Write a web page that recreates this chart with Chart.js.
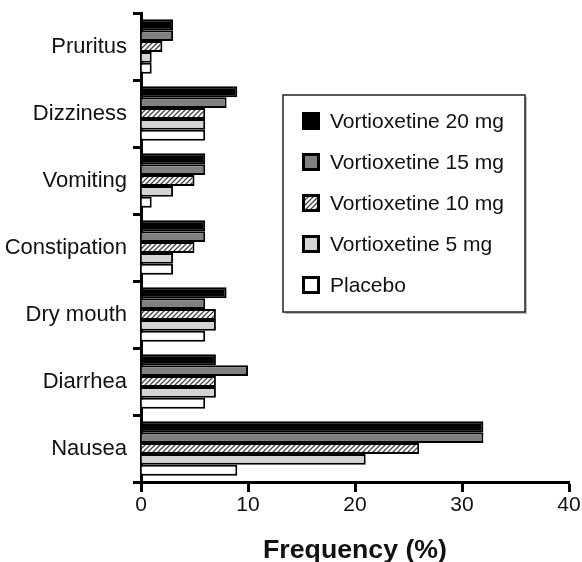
<!DOCTYPE html>
<html>
<head>
<meta charset="utf-8">
<script src="https://cdn.jsdelivr.net/npm/chart.js@4.4.1/dist/chart.umd.min.js"></script>
<style>
  html, body { margin: 0; padding: 0; background: #fff; }
  #wrap { width: 582px; height: 562px; }
</style>
</head>
<body>
<div id="wrap"><canvas id="myChart" width="582" height="562"></canvas></div>
<script>
const categories = ['Pruritus', 'Dizziness', 'Vomiting', 'Constipation', 'Dry mouth', 'Diarrhea', 'Nausea'];
const seriesNames = ['Vortioxetine 20 mg', 'Vortioxetine 15 mg', 'Vortioxetine 10 mg', 'Vortioxetine 5 mg', 'Placebo'];
const vortioxetine20 = [3, 9, 6, 6, 8, 7, 32];
const vortioxetine15 = [3, 8, 6, 6, 6, 10, 32];
const vortioxetine10 = [2, 6, 5, 5, 7, 7, 26];
const vortioxetine5 = [1, 6, 3, 3, 7, 7, 21];
const placebo = [1, 6, 1, 3, 6, 6, 9];
const xTicks = [0, 10, 20, 30, 40];

const FONT = "'Liberation Sans', Arial, sans-serif";

// diagonal hatch for the 10 mg bars
function hatchPattern() {
    const c = document.createElement('canvas');
    c.width = 5; c.height = 5;
    const g = c.getContext('2d');
    g.fillStyle = '#fff';
    g.fillRect(0, 0, 5, 5);
    g.strokeStyle = '#444';
    g.lineWidth = 1.3;
    g.beginPath();
    g.moveTo(-1, 6); g.lineTo(6, -1);
    g.moveTo(-1, 1); g.lineTo(1, -1);
    g.moveTo(4, 6); g.lineTo(6, 4);
    g.stroke();
    return g.createPattern(c, 'repeat');
}

const fills = ['#000000', '#808080', hatchPattern(), '#d4d4d4', '#ffffff'];
const values = [vortioxetine20, vortioxetine15, vortioxetine10, vortioxetine5, placebo];

// legend box drawn inside the plot area
const boxLegend = {
    id: 'boxLegend',
    afterDraw(chart) {
        const ctx = chart.ctx;
        const x = 283, y = 95, w = 242, h = 217;
        ctx.save();
        ctx.fillStyle = '#bbb';
        ctx.fillRect(x + 2, y + 2, w, h);
        ctx.fillStyle = '#fff';
        ctx.fillRect(x, y, w, h);
        ctx.strokeStyle = '#222';
        ctx.lineWidth = 1.5;
        ctx.strokeRect(x, y, w, h);
        ctx.font = '21px ' + FONT;
        ctx.textBaseline = 'middle';
        chart.data.datasets.forEach((ds, i) => {
            const cy = 121 + i * 41;
            ctx.fillStyle = ds.backgroundColor;
            ctx.fillRect(302, cy - 9, 18, 18);
            ctx.strokeStyle = '#000';
            ctx.lineWidth = 3;
            ctx.strokeRect(303.5, cy - 7.5, 15, 15);
            ctx.fillStyle = '#111';
            ctx.fillText(ds.label, 330, cy + 1);
        });
        ctx.restore();
    }
};

new Chart(document.getElementById('myChart'), {
    type: 'bar',
    data: {
        labels: categories,
        datasets: seriesNames.map((name, i) => ({
            label: name,
            data: values[i],
            backgroundColor: fills[i],
            borderColor: '#000',
            borderWidth: 2,
            categoryPercentage: 0.81,
            barPercentage: 1
        }))
    },
    options: {
        indexAxis: 'y',
        responsive: false,
        animation: false,
        layout: { padding: { top: 13, right: 13, left: 0, bottom: 0 } },
        plugins: {
            legend: { display: false },
            tooltip: { enabled: false }
        },
        scales: {
            x: {
                min: 0,
                max: 40,
                afterBuildTicks: (scale) => { scale.ticks = xTicks.map(v => ({ value: v })); },
                afterFit: (scale) => { scale.height = 80; },
                border: { color: '#000', width: 3 },
                grid: { drawOnChartArea: false, drawTicks: true, tickLength: 10, tickWidth: 3, tickColor: '#000' },
                ticks: { color: '#111', padding: 1, font: { family: FONT, size: 21 } },
                title: {
                    display: true,
                    text: 'Frequency (%)',
                    color: '#111',
                    padding: { top: 0, bottom: 0 },
                    font: { family: FONT, size: 26.7, weight: 'bold', lineHeight: 0.85 }
                }
            },
            y: {
                afterFit: (scale) => {
                    scale.width = 141;
                    scale.paddingTop = 0;
                    scale.paddingBottom = 0;
                },
                border: { color: '#000', width: 3 },
                grid: { offset: true, drawOnChartArea: false, drawTicks: true, tickLength: 8, tickWidth: 3, tickColor: '#000' },
                ticks: { color: '#111', padding: 6, font: { family: FONT, size: 22 } }
            }
        }
    },
    plugins: [boxLegend]
});
</script>
</body>
</html>
